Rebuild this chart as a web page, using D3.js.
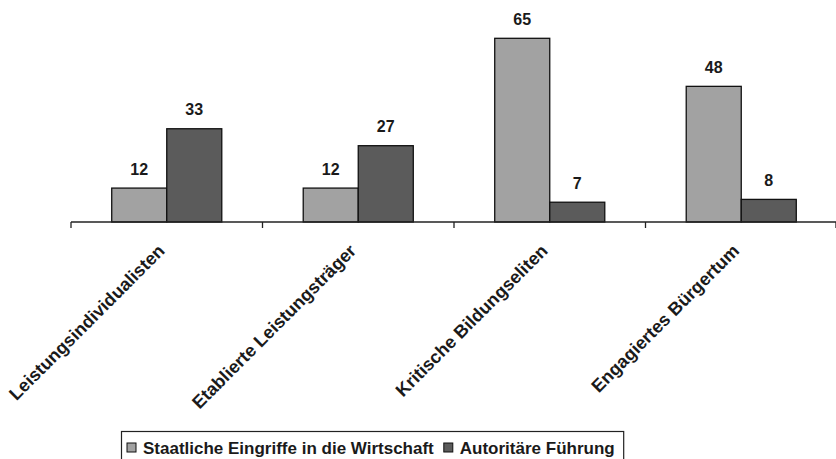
<!DOCTYPE html>
<html>
<head>
<meta charset="utf-8">
<script src="https://cdn.jsdelivr.net/npm/d3@7"></script>
<style>
  html, body { margin: 0; padding: 0; background: #fff; }
  svg { display: block; }
  text { font-family: "Liberation Sans", Arial, Helvetica, sans-serif; font-weight: bold; fill: #1a1a1a; }
</style>
</head>
<body>
<svg id="chart" width="836" height="459"></svg>
<script>
const categories = ["Leistungsindividualisten", "Etablierte Leistungsträger", "Kritische Bildungseliten", "Engagiertes Bürgertum"];
const seriesNames = ["Staatliche Eingriffe in die Wirtschaft", "Autoritäre Führung"];
const staatlicheEingriffe = [12, 12, 65, 48];
const autoritaereFuehrung = [33, 27, 7, 8];
const seriesValues = [staatlicheEingriffe, autoritaereFuehrung];
const colors = ["#a2a2a2", "#5b5b5b"];

const svg = d3.select("#chart");
const baseY = 222;

const x0 = d3.scaleBand().domain(categories).range([71, 837]).paddingInner(0).paddingOuter(0);
const x1 = d3.scaleBand().domain(seriesNames).range([0, x0.bandwidth()]).paddingInner(0).paddingOuter(0.74);
const y = d3.scaleLinear().domain([0, 70]).range([baseY, baseY - 70 * 2.826]);

// bars
const groups = svg.append("g").selectAll("g")
  .data(categories).join("g")
  .attr("transform", d => `translate(${x0(d)},0)`);

groups.selectAll("rect")
  .data((c, i) => seriesNames.map((s, j) => ({ s, j, v: seriesValues[j][i] })))
  .join("rect")
  .attr("x", d => x1(d.s))
  .attr("y", d => y(d.v))
  .attr("width", x1.bandwidth())
  .attr("height", d => y(0) - y(d.v))
  .attr("fill", d => colors[d.j])
  .attr("stroke", "#111")
  .attr("stroke-width", 1.3);

groups.selectAll("text.val")
  .data((c, i) => seriesNames.map((s, j) => ({ s, j, v: seriesValues[j][i] })))
  .join("text")
  .attr("class", "val")
  .attr("x", d => x1(d.s) + x1.bandwidth() / 2)
  .attr("y", d => y(d.v) - 13.5)
  .attr("text-anchor", "middle")
  .style("font-size", "16px")
  .text(d => d.v);

// axis line and ticks at category boundaries
const axisG = svg.append("g");
axisG.append("line")
  .attr("x1", x0.range()[0]).attr("x2", x0.range()[1])
  .attr("y1", baseY).attr("y2", baseY)
  .attr("stroke", "#222").attr("stroke-width", 1.3);
const tickPos = categories.map(c => x0(c)).concat([x0.range()[1] - 1]);
axisG.selectAll("line.tick").data(tickPos).join("line")
  .attr("class", "tick")
  .attr("x1", d => d).attr("x2", d => d)
  .attr("y1", baseY).attr("y2", baseY + 6)
  .attr("stroke", "#222").attr("stroke-width", 1.3);

// category labels rotated
axisG.selectAll("text.cat").data(categories).join("text")
  .attr("class", "cat")
  .attr("text-anchor", "end")
  .attr("transform", d => `translate(${x0(d) + x0.bandwidth() / 2 - 1},${baseY + 30}) rotate(-45)`)
  .style("font-size", "18px")
  .text(d => d);

// legend
const leg = svg.append("g");
const legRect = leg.append("rect")
  .attr("x", 121.5).attr("y", 431.5).attr("height", 34)
  .attr("fill", "#fff").attr("stroke", "#222").attr("stroke-width", 1.2);
let cx = 127;
seriesNames.forEach((s, j) => {
  leg.append("rect")
    .attr("x", cx).attr("y", 443).attr("width", 9).attr("height", 9)
    .attr("fill", colors[j]).attr("stroke", "#111").attr("stroke-width", 1);
  const t = leg.append("text")
    .attr("x", cx + 16).attr("y", 453.5)
    .style("font-size", "17px")
    .text(s);
  const w = t.node().getComputedTextLength();
  cx = cx + 16 + w + 10;
});
legRect.attr("width", cx - 121.5 - 1);
</script>
</body>
</html>
